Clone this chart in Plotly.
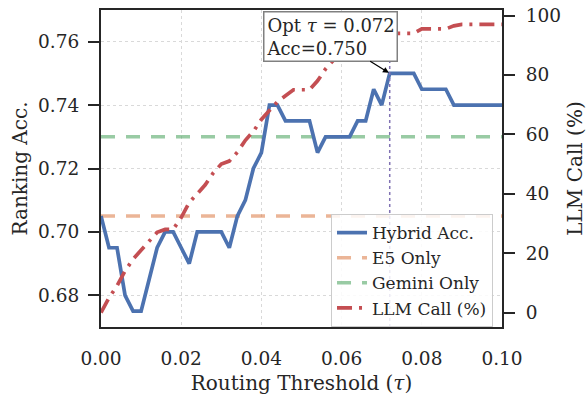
import plotly.graph_objects as go

tau = [round(i * 0.002, 3) for i in range(51)]
hybrid_acc = [0.705, 0.695, 0.695, 0.680, 0.675, 0.675, 0.685, 0.695, 0.700, 0.700,
              0.695, 0.690, 0.700, 0.700, 0.700, 0.700, 0.695, 0.705, 0.710, 0.720,
              0.725, 0.740, 0.740, 0.735, 0.735, 0.735, 0.735, 0.725, 0.730, 0.730,
              0.730, 0.730, 0.735, 0.735, 0.745, 0.740, 0.750, 0.750, 0.750, 0.750,
              0.745, 0.745, 0.745, 0.745, 0.740, 0.740, 0.740, 0.740, 0.740, 0.740, 0.740]
llm_call = [0, 5, 9, 14, 18, 21, 24, 27, 28, 28,
            32, 37, 40, 43, 47, 50, 51, 54, 58, 61,
            65, 68, 71, 73, 75, 75, 75, 78, 82, 85,
            85, 85, 86, 88, 90, 92, 94, 94, 94, 94,
            95.5, 95.5, 95.5, 95.5, 96.5, 97, 97, 97, 97, 97, 97]
e5_only = 0.705
gemini_only = 0.730
x_ticks = [0.00, 0.02, 0.04, 0.06, 0.08, 0.10]
y_ticks = [0.68, 0.70, 0.72, 0.74, 0.76]
y2_ticks = [0, 20, 40, 60, 80, 100]

BLUE = "#4C72B0"
ORANGE = "rgba(221,132,82,0.6)"
GREEN = "rgba(85,168,104,0.6)"
RED = "#C44E52"
PURPLE = "#8172B3"
INK = "#262626"
FONT = "DejaVu Serif"
TICK_FS = 18.5
TITLE_FS = 20

best = max(range(len(hybrid_acc)), key=lambda i: hybrid_acc[i])
opt_tau, opt_acc = tau[best], hybrid_acc[best]

fig = go.Figure()
fig.add_trace(go.Scatter(x=[tau[0], tau[-1]], y=[e5_only, e5_only], mode="lines",
                         name="E5 Only", legendrank=2,
                         line=dict(color=ORANGE, width=3.5, dash="14px,11px")))
fig.add_trace(go.Scatter(x=[tau[0], tau[-1]], y=[gemini_only, gemini_only], mode="lines",
                         name="Gemini Only", legendrank=3,
                         line=dict(color=GREEN, width=3.5, dash="14px,11px")))
fig.add_trace(go.Scatter(x=tau, y=hybrid_acc, mode="lines", name="Hybrid Acc.",
                         legendrank=1, line=dict(color=BLUE, width=3.7)))
fig.add_trace(go.Scatter(x=tau, y=llm_call, mode="lines", name="LLM Call (%)",
                         legendrank=4, yaxis="y2",
                         line=dict(color=RED, width=3.7, dash="15px,7px,3px,7px")))

fig.add_shape(type="line", xref="x", yref="paper", x0=opt_tau, x1=opt_tau, y0=0, y1=1,
              line=dict(color=PURPLE, width=1.5, dash="dot"))

fig.add_annotation(x=opt_tau, y=opt_acc, xref="x", yref="y",
                   text=f"Opt <i>τ</i> = {opt_tau:.3f}<br>Acc={opt_acc:.3f}",
                   align="left", showarrow=True, arrowhead=2, arrowsize=1, arrowwidth=1.2,
                   arrowcolor="black", ax=-59, ay=-37, standoff=1,
                   bgcolor="white", bordercolor="#808080", borderwidth=1.5, borderpad=2,
                   font=dict(family=FONT, size=18, color=INK))

fig.update_layout(
    width=587, height=396,
    margin=dict(l=101, r=85, t=10, b=69),
    plot_bgcolor="white", paper_bgcolor="white",
    font=dict(family=FONT, size=TICK_FS, color=INK),
    showlegend=True,
    legend=dict(x=0.9776, y=0.178, xanchor="right", yanchor="middle",
                bgcolor="rgba(255,255,255,0.85)", bordercolor="#cccccc", borderwidth=1,
                font=dict(family=FONT, size=17, color=INK), tracegroupgap=0,
                itemwidth=30),
    xaxis=dict(range=[0, 0.1], tickvals=x_ticks, ticktext=[f"{v:.2f}" for v in x_ticks],
               showgrid=True, gridcolor="#d9d9d9", griddash="dot", gridwidth=1,
               showline=True, linecolor=INK, linewidth=2, mirror=True,
               ticks="", ticklabelstandoff=14, zeroline=False, automargin=False,
               title=dict(text="Routing Threshold (<i>τ</i>)", standoff=8,
                          font=dict(size=TITLE_FS))),
    yaxis=dict(range=[0.67, 0.77], tickvals=y_ticks, ticktext=[f"{v:.2f}" for v in y_ticks],
               showgrid=True, gridcolor="#d9d9d9", griddash="dot", gridwidth=1,
               showline=True, linecolor=INK, linewidth=2, zeroline=False,
               ticks="outside", ticklen=11, tickwidth=1.5, tickcolor=INK,
               ticklabelstandoff=5, automargin=False,
               title=dict(text="Ranking Acc.", standoff=5, font=dict(size=TITLE_FS))),
    yaxis2=dict(range=[-4.85, 101.85], tickvals=y2_ticks, overlaying="y", side="right",
                showgrid=False, showline=True, linecolor=INK, linewidth=2, zeroline=False,
                ticks="outside", ticklen=11, tickwidth=1.5, tickcolor=INK,
                ticklabelstandoff=7, automargin=False,
                title=dict(text="LLM Call (%)", standoff=8, font=dict(size=TITLE_FS))),
)

fig.write_html("out.html", config={"displayModeBar": False},
               post_script="document.body.style.margin='0';document.body.style.overflow='hidden';")
